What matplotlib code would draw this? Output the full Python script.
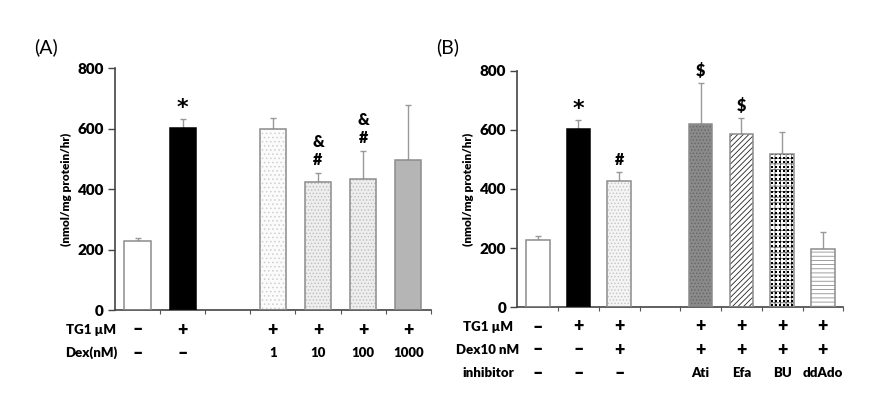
import numpy as np
import matplotlib
matplotlib.use("Agg")
import matplotlib.pyplot as plt
from matplotlib.transforms import blended_transform_factory

plt.rcParams['font.family'] = ['Lato', 'DejaVu Sans']
plt.rcParams['hatch.linewidth'] = 0.6

# panel A data
a_means = [228, 603, 598, 424, 432, 496]
a_errs = [12, 28, 36, 31, 95, 181]
a_tg1 = ['–', '+', '+', '+', '+', '+']
a_dex = ['–', '–', '1', '10', '100', '1000']
a_marks = ['', '*', '', '&\n#', '&\n#', '']

# panel B data
b_means = [227, 602, 427, 618, 587, 519, 197]
b_errs = [14, 30, 29, 139, 52, 74, 56]
b_tg1 = ['–', '+', '+', '+', '+', '+', '+']
b_dex = ['–', '–', '+', '+', '+', '+', '+']
b_inhib = ['–', '–', '–', 'Ati', 'Efa', 'BU', 'ddAdo']
b_marks = ['', '*', '#', '$', '$', '', '']

yticks = [0, 200, 400, 600, 800]

# fill styles (face, hatch, hatch colour)
a_styles = [('white', '', None), ('black', '', None), ('#fbfbfb', '....', '#cfcfcf'),
            ('#eeeeee', '.....', '#bdbdbd'), ('#eeeeee', '.....', '#bdbdbd'),
            ('#b5b5b5', '', None)]
b_styles = [('white', '', None), ('black', '', None), ('#f4f4f4', '.....', '#c4c4c4'),
            ('#8a8a8a', '.....', '#666666'), ('white', '//////', '#222222'),
            ('dots', '+++', '#666666'), ('white', '----', '#909090')]

fig = plt.figure(figsize=(8.81, 3.97), dpi=100)
axA = fig.add_axes([0.1305, 0.219, 0.3585, 0.609])
axB = fig.add_axes([0.5872, 0.226, 0.370, 0.596])


def draw_panel(ax, means, errs, styles, marks, gap, nslots, rows, row_y, label_x, mark_off):
    x = np.arange(len(means))
    x[x >= gap] += 1
    w = 0.58
    for xi, m, st in zip(x, means, styles):
        face, hatch, hc = st
        if face == 'dots':
            # black dot grid pattern
            b = ax.bar(xi, m, width=w, color='white', edgecolor=hc, hatch=hatch, linewidth=0, zorder=2)
            gx = np.linspace(xi - w / 2 + 0.05, xi + w / 2 - 0.05, 6)
            gy = np.arange(7, m, 14.2)
            GX, GY = np.meshgrid(gx, gy)
            sc = ax.scatter(GX.ravel(), GY.ravel(), s=2.2, marker='s', color='black',
                            linewidths=0, zorder=2.5)
            sc.set_clip_path(b.patches[0])
        elif hatch:
            ax.bar(xi, m, width=w, color=face, edgecolor=hc, hatch=hatch, linewidth=0, zorder=2)
        else:
            ax.bar(xi, m, width=w, color=face, linewidth=0, zorder=2)
        edge = 'black' if face == 'black' else '#8c8c8c'
        ax.bar(xi, m, width=w, fill=False, edgecolor=edge, linewidth=1.1, zorder=3)
    ax.errorbar(x, means, yerr=[np.zeros(len(errs)), errs], fmt='none',
                ecolor='#999999', elinewidth=1, capsize=2, capthick=1, zorder=1)
    for xi, m, e, t in zip(x, means, errs, marks):
        if t == '*':
            ax.text(xi, m + e + mark_off - 10, t, ha='center', va='bottom', fontsize=16,
                    fontweight='heavy', family='DejaVu Sans')
        elif t:
            ax.text(xi, m + e + mark_off, t, ha='center', va='bottom', fontsize=11.5,
                    fontweight='heavy', linespacing=1.15)
    ax.set_xlim(-0.5, nslots - 0.5)
    ax.set_ylim(0, 800)
    ax.set_yticks(yticks)
    ax.set_yticklabels([str(v) for v in yticks], fontsize=11, fontweight='heavy')
    ax.set_xticks(np.arange(nslots) + 0.5)
    ax.set_xticklabels([])
    ax.tick_params(axis='x', length=3, width=0.8, direction='out', color='#555555')
    ax.tick_params(axis='y', length=5, width=1, direction='out', color='#444444', pad=3)
    for s in ['top', 'right']:
        ax.spines[s].set_visible(False)
    for s in ['left', 'bottom']:
        ax.spines[s].set_color('#444444')
        ax.spines[s].set_linewidth(1.2)
    ax.set_ylabel('(nmol/mg protein/hr)', fontsize=8.5, fontweight='heavy', labelpad=4)
    tr = blended_transform_factory(ax.transData, fig.transFigure)
    for (name, vals), yy in zip(rows, row_y):
        fig.text(label_x, yy, name, ha='center', va='center', fontsize=9.5, fontweight='heavy')
        for xi, v in zip(x, vals):
            fs = 13 if v in ('+', '–') else 9.5
            ax.text(xi, yy, v, transform=tr, ha='center', va='center', fontsize=fs,
                    fontweight='heavy', clip_on=False)


draw_panel(axA, a_means, a_errs, a_styles, a_marks, 2, 7,
           [('TG1 µM', a_tg1), ('Dex(nM)', a_dex)],
           [1 - 330 / 397, 1 - 353 / 397], 91 / 881, 15)
draw_panel(axB, b_means, b_errs, b_styles, b_marks, 3, 8,
           [('TG1 µM', b_tg1), ('Dex10 nM', b_dex), ('inhibitor', b_inhib)],
           [1 - 327 / 397, 1 - 350 / 397, 1 - 373 / 397], 488 / 881, 15)

fig.text(46 / 881, 1 - 47 / 397, '(A)', ha='center', va='center', fontsize=14)
fig.text(448 / 881, 1 - 47 / 397, '(B)', ha='center', va='center', fontsize=14)

fig.savefig('out.png', dpi=100)
